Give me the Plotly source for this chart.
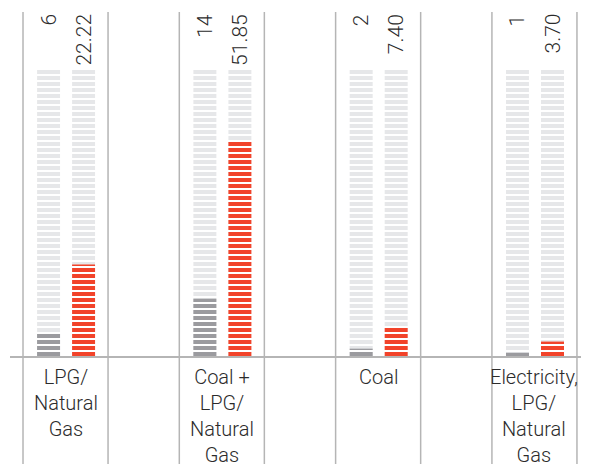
import plotly.graph_objects as go

# data
categories = ["LPG/<br>Natural<br>Gas", "Coal +<br>LPG/<br>Natural<br>Gas", "Coal",
              "Electricity,<br>LPG/<br>Natural<br>Gas"]
counts = [6, 14, 2, 1]
percents = [22.22, 51.85, 7.40, 3.70]
pct_labels = ["22.22", "51.85", "7.40", "3.70"]
track_max = [69.1, 69.1, 69.1, 69.1]

RED = "#f2432a"
DARK = "#9b9b9f"
LIGHT = "#e6e7e9"
LINE = "#b5b5b5"
TXT = "#2b2b2b"

# page body has an 8px margin, so the figure is a bit smaller than the window
W, H = 581, 456
y_top, y_bot = 82.77, -25.67
x_lo, x_hi = -0.368, 3.349
bar_w = 0.147
grey_off, red_off = -0.182, 0.042

xs = list(range(len(categories)))


def striped(color):
    return dict(color=color, line=dict(width=0),
                pattern=dict(shape="-", fgcolor="white", bgcolor=color,
                             fgopacity=1, size=6, solidity=0.33))


fig = go.Figure()
fig.add_bar(x=xs, y=track_max, offset=grey_off, width=bar_w, marker=striped(LIGHT))
fig.add_bar(x=xs, y=track_max, offset=red_off, width=bar_w, marker=striped(LIGHT))
fig.add_bar(x=xs, y=counts, offset=grey_off, width=bar_w, marker=striped(DARK))
fig.add_bar(x=xs, y=percents, offset=red_off, width=bar_w, marker=striped(RED))

# separators around each group
for x in xs:
    for dx in (-0.272, 0.272):
        fig.add_shape(type="line", xref="x", yref="paper", x0=x + dx, x1=x + dx,
                      y0=0, y1=1, line=dict(color=LINE, width=1.5))

# baseline
fig.add_shape(type="line", xref="paper", yref="y", x0=2 / W, x1=1, y0=0, y1=0,
              line=dict(color=LINE, width=2))

font = dict(family="Roboto", size=21, color=TXT, weight=300)

for x, c, p in zip(xs, counts, pct_labels):
    fig.add_annotation(x=x + grey_off + bar_w / 2, y=y_top, text=str(c), textangle=-90,
                       showarrow=False, xanchor="center", yanchor="top", font=font)
    fig.add_annotation(x=x + red_off + bar_w / 2, y=y_top, text=p, textangle=-90,
                       showarrow=False, xanchor="center", yanchor="top", font=font)

for x, lab in zip(xs, categories):
    fig.add_annotation(x=x, y=-1.4, text=lab, showarrow=False, xanchor="center",
                       yanchor="top", align="center",
                       font=dict(family="Roboto", size=20, color=TXT, weight=300))

fig.update_layout(
    width=W, height=H,
    margin=dict(l=0, r=0, t=4, b=0),
    barmode="overlay",
    showlegend=False,
    plot_bgcolor="white", paper_bgcolor="white",
    xaxis=dict(range=[x_lo, x_hi], visible=False, fixedrange=True),
    yaxis=dict(range=[y_bot, y_top], visible=False, fixedrange=True),
)

fig.write_html("out.html", config={"displayModeBar": False})
